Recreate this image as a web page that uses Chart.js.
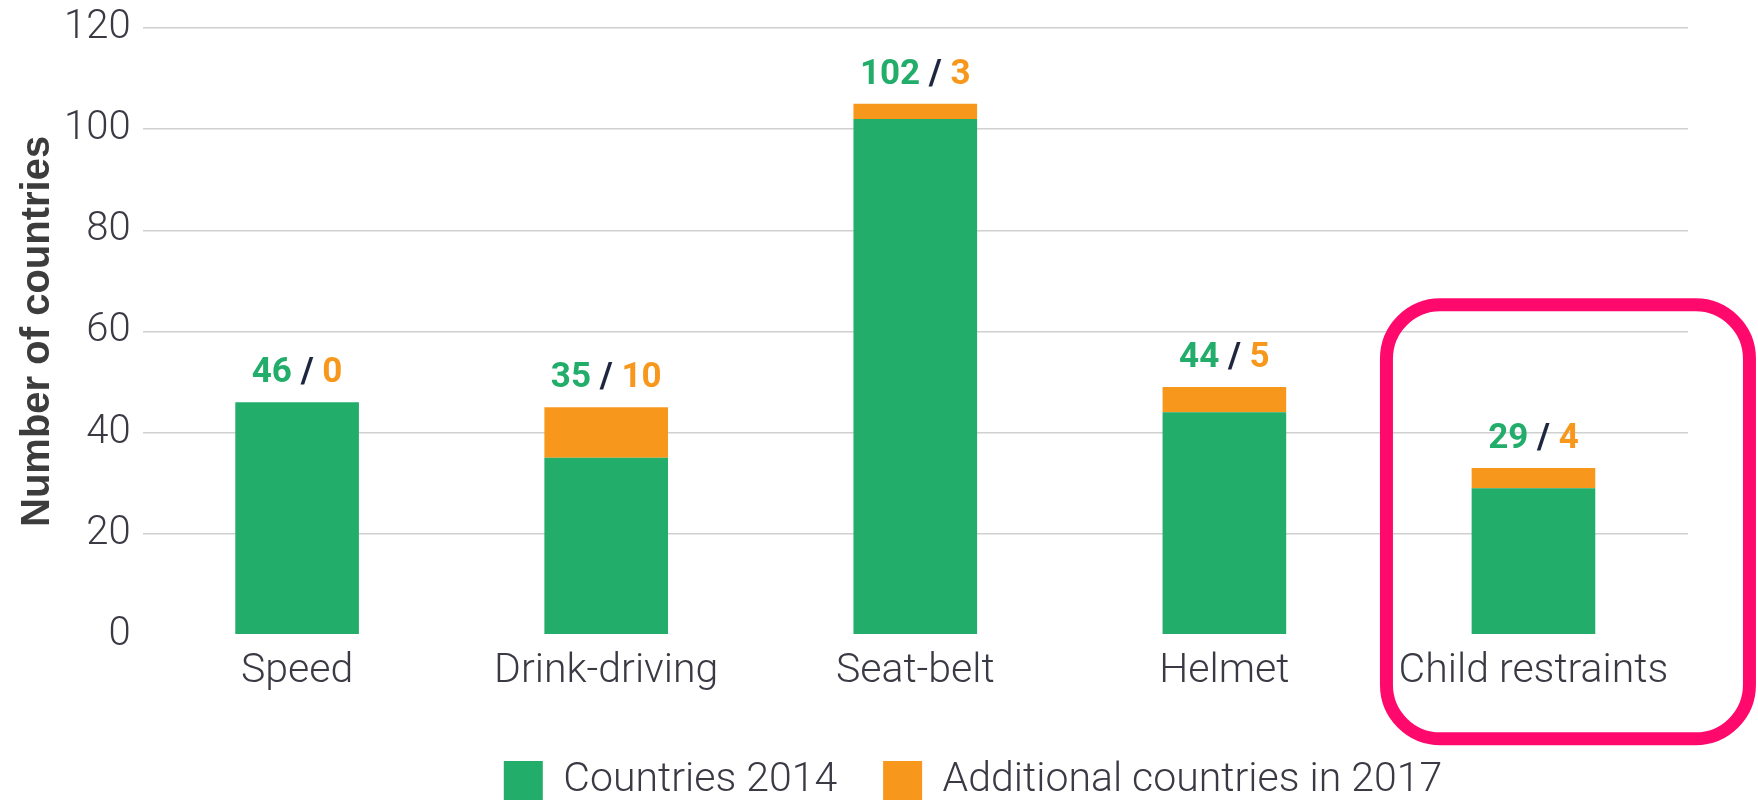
<!DOCTYPE html>
<html><head><meta charset="utf-8">
<script src="https://cdn.jsdelivr.net/npm/chart.js@4.4.1/dist/chart.umd.min.js"></script>
<style>html,body{margin:0;padding:0;background:#fff;overflow:hidden}#wrap{width:1758px;height:800px}</style>
</head><body><div id="wrap"><canvas id="c" width="1758" height="800"></canvas></div>
<script>
// ---- data ----
const categories = ['Speed', 'Drink-driving', 'Seat-belt', 'Helmet', 'Child restraints'];
const countries2014 = [46, 35, 102, 44, 29];
const additional2017 = [0, 10, 3, 5, 4];
const seriesLabels = ['Countries 2014', 'Additional countries in 2017'];
const yTicks = [0, 20, 40, 60, 80, 100, 120];
const yAxisTitle = 'Number of countries';
const highlightIndex = 4;

// ---- style ----
const GREEN = '#23AD6B', ORANGE = '#F7981D', SLASH = '#1f2740', PINK = '#FF0A6C';
const TEXT = '#3a3a44', GRID = '#d0d0d0';
const LIGHT = '"Roboto", "Liberation Sans", sans-serif';

const legendShift = {
  id: 'legendShift',
  afterLayout(chart) {
    const l = chart.legend;
    if (l) { l.left += 129; l.right += 129; }
  }
};

const valueLabels = {
  id: 'valueLabels',
  afterDatasetsDraw(chart) {
    const ctx = chart.ctx;
    const top = chart.getDatasetMeta(1);
    ctx.save();
    ctx.font = 'bold 35px ' + LIGHT;
    ctx.textBaseline = 'alphabetic';
    ctx.textAlign = 'left';
    top.data.forEach((el, i) => {
      const parts = [[String(countries2014[i]), GREEN], [' / ', SLASH], [String(additional2017[i]), ORANGE]];
      const w = parts.reduce((s, p) => s + ctx.measureText(p[0]).width, 0);
      let x = el.x - w / 2;
      const y = el.y - 20;
      parts.forEach(p => { ctx.fillStyle = p[1]; ctx.fillText(p[0], x, y); x += ctx.measureText(p[0]).width; });
    });
    ctx.restore();
  }
};

const highlight = {
  id: 'highlight',
  afterDraw(chart) {
    const xs = chart.scales.x, area = chart.chartArea;
    const cx = xs.getPixelForValue(highlightIndex);
    const left = cx - 147, right = cx + 216;
    const top = area.bottom - 330, bottom = area.bottom + 104;
    const ctx = chart.ctx;
    ctx.save();
    ctx.strokeStyle = PINK;
    ctx.lineWidth = 13;
    ctx.beginPath();
    ctx.roundRect(left, top, right - left, bottom - top, 54);
    ctx.stroke();
    ctx.restore();
  }
};

new Chart(document.getElementById('c'), {
  type: 'bar',
  data: {
    labels: categories,
    datasets: [
      { label: seriesLabels[0], data: countries2014, backgroundColor: GREEN, borderWidth: 0 },
      { label: seriesLabels[1], data: additional2017, backgroundColor: ORANGE, borderWidth: 0 }
    ]
  },
  options: {
    responsive: false,
    devicePixelRatio: 1,
    animation: false,
    layout: { padding: { top: 28, right: 70, bottom: -11, left: 0 } },
    datasets: { bar: { categoryPercentage: 1.0, barPercentage: 0.4 } },
    scales: {
      x: {
        stacked: true,
        afterFit: s => { s.height += 6; },
        grid: { display: false, drawTicks: false },
        border: { display: false },
        ticks: { color: TEXT, font: { family: LIGHT, size: 41, weight: 300 }, padding: 12 }
      },
      y: {
        stacked: true,
        min: 0, max: 120,
        afterBuildTicks: s => { s.ticks = yTicks.map(v => ({ value: v })); },
        afterFit: s => { s.width -= 17; s.paddingTop = 0; },
        grid: { drawTicks: false, lineWidth: 1.5, color: c => (c.tick && c.tick.value === 0) ? 'rgba(0,0,0,0)' : GRID },
        border: { display: false },
        ticks: { color: TEXT, font: { family: LIGHT, size: 40, weight: 300 }, padding: 12 },
        title: { display: true, text: yAxisTitle, color: '#3c3c3c', font: { family: '"Liberation Sans", Arial, sans-serif', size: 40, weight: 'bold' }, padding: { top: 14, bottom: 7 } }
      }
    },
    plugins: {
      legend: {
        position: 'bottom',
        labels: { color: TEXT, font: { family: LIGHT, size: 41, weight: 300 }, boxWidth: 39, boxHeight: 39, padding: 46 }
      },
      tooltip: { enabled: false }
    }
  },
  plugins: [legendShift, valueLabels, highlight]
});
</script>
</body></html>
